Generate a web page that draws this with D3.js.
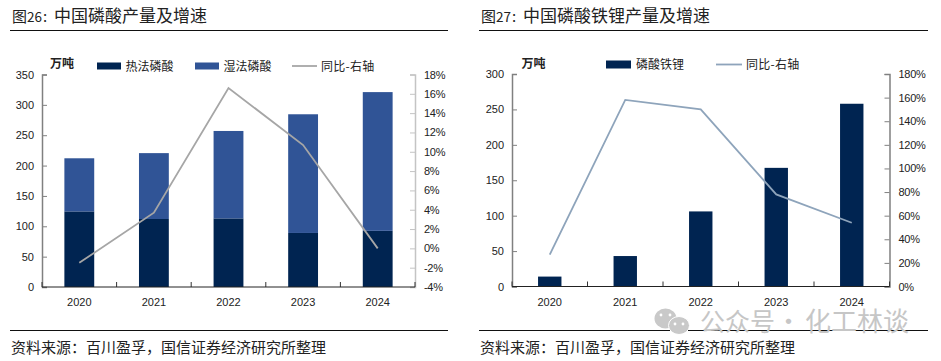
<!DOCTYPE html>
<html>
<head>
<meta charset="utf-8">
<script src="https://d3js.org/d3.v7.min.js"></script>
<style>
	html, body { margin: 0; padding: 0; background: #fff; }
	svg { display: block; }
	text { font-family: "Liberation Sans", "Noto Sans CJK SC", sans-serif; fill: #222; }
	.cjk { font-family: "Noto Sans CJK SC", sans-serif; }
</style>
</head>
<body>
<svg id="chart" width="941" height="361"></svg>
<script>
	var years = ["2020", "2021", "2022", "2023", "2024"];

	// fig 26, 万吨 and yoy %
	var thermalAcid = [124.5, 112, 113, 89, 92.5];
	var wetAcid = [87.5, 108.5, 144, 195.5, 228.5];
	var acidGrowth = [-1.5, 3.7, 16.6, 10.7, 0];
	var acidTicks = [0, 50, 100, 150, 200, 250, 300, 350];
	var acidGrowthTicks = [-4, -2, 0, 2, 4, 6, 8, 10, 12, 14, 16, 18];

	// fig 27
	var lfp = [14, 43, 106, 167.5, 258];
	var lfpGrowth = [27, 158, 150, 78, 54];
	var lfpTicks = [0, 50, 100, 150, 200, 250, 300];
	var lfpGrowthTicks = [0, 20, 40, 60, 80, 100, 120, 140, 160, 180];

	var NAVY = "#002451";
	var BLUE = "#305496";
	var svg = d3.select("#chart");

	function drawFrame(o) {
		var g = svg.append("g");

		// title is set in three sizes in the original
		g.append("text").attr("class", "cjk").attr("x", o.ruleL + 2).attr("y", 22)
			.attr("font-size", 15).text("图");
		g.append("text").attr("class", "cjk").attr("x", o.ruleL + 17).attr("y", 22)
			.attr("font-size", 13.5).text(o.figNo);
		g.append("text").attr("class", "cjk").attr("x", o.ruleL + 33).attr("y", 22)
			.attr("font-size", 15).text(":");
		g.append("text").attr("class", "cjk").attr("x", o.ruleL + 44).attr("y", 22)
			.attr("font-size", 17).text(o.title);

		g.append("line").attr("x1", o.ruleL).attr("x2", o.ruleR).attr("y1", 30.5).attr("y2", 30.5)
			.attr("stroke", "#111").attr("stroke-width", 1);
		g.append("line").attr("x1", o.ruleL).attr("x2", o.ruleR).attr("y1", 330.5).attr("y2", 330.5)
			.attr("stroke", "#111").attr("stroke-width", 1);
		g.append("text").attr("class", "cjk").attr("x", o.ruleL + 1).attr("y", 352.5)
			.attr("font-size", 15).text("资料来源：百川盈孚，国信证券经济研究所整理");

		g.append("text").attr("class", "cjk").attr("x", o.unitX).attr("y", 67.5)
			.attr("font-size", 12).attr("font-weight", 700).text("万吨");
		return g;
	}

	function drawAxes(g, o) {
		var x = o.x, yL = o.yL, yR = o.yR;

		var left = g.append("g").attr("transform", "translate(" + o.x0 + ",0)")
			.call(d3.axisRight(yL).tickValues(o.leftTicks).tickSize(5).tickFormat(""));
		left.selectAll("line,path").attr("stroke", "#808080").attr("stroke-width", 1);
		left.select("path").attr("stroke-width", 1.5);
		o.leftTicks.forEach(function(d) {
			g.append("text").attr("x", o.x0 - 8).attr("y", yL(d) + 4).attr("text-anchor", "end")
				.attr("font-size", 11).text(d);
		});

		var right = g.append("g").attr("transform", "translate(" + o.x1 + ",0)")
			.call(d3.axisLeft(yR).tickValues(o.rightTicks).tickSize(5).tickFormat(""));
		right.selectAll("line,path").attr("stroke", o.rightColor).attr("stroke-width", 1);
		right.select("path").attr("stroke-width", 1.5);
		o.rightTicks.forEach(function(d) {
			g.append("text").attr("x", o.x1 + 9).attr("y", yR(d) + 4)
				.attr("font-size", 11).attr("letter-spacing", -0.3).text(d + "%");
		});

		// ticks sit on the band edges, not the centres
		var edges = years.map(function(d) { return x(d) - x.step() * x.paddingInner() / 2; })
			.concat([o.x1]);
		g.selectAll(null).data(edges).enter().append("line")
			.attr("x1", function(d) { return d; }).attr("x2", function(d) { return d; })
			.attr("y1", o.y0 - 5).attr("y2", o.y0).attr("stroke", "#333");
		g.append("line").attr("x1", o.x0).attr("x2", o.x1).attr("y1", o.y0).attr("y2", o.y0)
			.attr("stroke", "#222").attr("stroke-width", 1);

		years.forEach(function(d) {
			g.append("text").attr("x", x(d) + x.bandwidth() / 2).attr("y", o.y0 + 19)
				.attr("text-anchor", "middle").attr("font-size", 11).text(d);
		});
	}

	function drawLine(g, o, values, color) {
		var line = d3.line()
			.x(function(d, i) { return o.x(years[i]) + o.x.bandwidth() / 2; })
			.y(function(d) { return o.yR(d); });
		g.append("path").datum(values).attr("d", line).attr("fill", "none")
			.attr("stroke", color).attr("stroke-width", 1.8);
	}

	function legendBox(g, x, w, top, h, color, label, textX, base) {
		g.append("rect").attr("x", x).attr("y", top).attr("width", w).attr("height", h).attr("fill", color);
		g.append("text").attr("class", "cjk").attr("x", textX).attr("y", base)
			.attr("font-size", 12).text(label);
	}

	function legendLine(g, x, w, lineY, color, label, textX, base) {
		g.append("line").attr("x1", x).attr("x2", x + w).attr("y1", lineY).attr("y2", lineY)
			.attr("stroke", color).attr("stroke-width", 1.8);
		g.append("text").attr("class", "cjk").attr("x", textX).attr("y", base)
			.attr("font-size", 12).attr("letter-spacing", 0.3).text(label);
	}

	// fig 26
	var a = {
		figNo: "26", title: "中国磷酸产量及增速", ruleL: 10, ruleR: 448, unitX: 50,
		x0: 42, x1: 415, y0: 287,
		leftTicks: acidTicks, rightTicks: acidGrowthTicks, rightColor: "#c4c4c4"
	};
	a.x = d3.scaleBand().domain(years).range([a.x0, a.x1]).paddingInner(0.6).paddingOuter(0.3);
	a.yL = d3.scaleLinear().domain([0, 350]).range([a.y0, 74.5]);
	a.yR = d3.scaleLinear().domain([-4, 18]).range([a.y0, 74.5]);

	var ga = drawFrame(a);
	var stacked = d3.stack().keys(["thermal", "wet"])(years.map(function(d, i) {
		return { year: d, thermal: thermalAcid[i], wet: wetAcid[i] };
	}));
	[NAVY, BLUE].forEach(function(color, k) {
		ga.selectAll(null).data(stacked[k]).enter().append("rect")
			.attr("x", function(d) { return a.x(d.data.year); })
			.attr("width", a.x.bandwidth())
			.attr("y", function(d) { return a.yL(d[1]); })
			.attr("height", function(d) { return a.yL(d[0]) - a.yL(d[1]); })
			.attr("fill", color);
	});
	drawAxes(ga, a);
	drawLine(ga, a, acidGrowth, "#a6a6a6");
	legendBox(ga, 97, 24, 62.5, 7, NAVY, "热法磷酸", 125.5, 70.5);
	legendBox(ga, 195, 24, 62.5, 7, BLUE, "湿法磷酸", 223.5, 70.5);
	legendLine(ga, 292, 25, 66, "#a6a6a6", "同比-右轴", 321, 70.5);

	// fig 27
	var b = {
		figNo: "27", title: "中国磷酸铁锂产量及增速", ruleL: 479, ruleR: 928, unitX: 521.5,
		x0: 512, x1: 889.5, y0: 286.5,
		leftTicks: lfpTicks, rightTicks: lfpGrowthTicks, rightColor: "#808080"
	};
	b.x = d3.scaleBand().domain(years).range([b.x0, b.x1]).paddingInner(0.69).paddingOuter(0.345);
	b.yL = d3.scaleLinear().domain([0, 300]).range([b.y0, 74]);
	b.yR = d3.scaleLinear().domain([0, 180]).range([b.y0, 74]);

	var gb = drawFrame(b);
	gb.selectAll(null).data(lfp).enter().append("rect")
		.attr("x", function(d, i) { return b.x(years[i]); })
		.attr("width", b.x.bandwidth())
		.attr("y", function(d) { return b.yL(d); })
		.attr("height", function(d) { return b.y0 - b.yL(d); })
		.attr("fill", NAVY);
	drawAxes(gb, b);
	drawLine(gb, b, lfpGrowth, "#8ea4bb");
	legendBox(gb, 606, 25, 60.5, 8, NAVY, "磷酸铁锂", 636, 69);
	legendLine(gb, 716, 26, 64.5, "#8ea4bb", "同比-右轴", 746, 69);

	// watermark over the lower right corner
	var mark = svg.append("g");
	mark.append("ellipse").attr("cx", 665.5).attr("cy", 318.5).attr("rx", 11).attr("ry", 10).attr("fill", "#c9c9c9");
	mark.append("ellipse").attr("cx", 679).attr("cy", 325.5).attr("rx", 10.5).attr("ry", 9)
		.attr("fill", "#c9c9c9").attr("stroke", "#fff").attr("stroke-width", 1);
	[[661, 315], [670, 315], [675, 324], [683, 324]].forEach(function(p) {
		mark.append("circle").attr("cx", p[0]).attr("cy", p[1]).attr("r", 1.4).attr("fill", "#fff");
	});
	mark.append("text").attr("class", "cjk").attr("x", 700).attr("y", 331)
		.attr("font-size", 25).style("fill", "#c6c6c6").text("公众号");
	mark.append("text").attr("class", "cjk").attr("x", 776).attr("y", 331)
		.attr("font-size", 25).style("fill", "#c6c6c6").text("·");
	mark.append("text").attr("class", "cjk").attr("x", 805).attr("y", 331)
		.attr("font-size", 26).style("fill", "#c6c6c6").text("化工林谈");
</script>
</body>
</html>
